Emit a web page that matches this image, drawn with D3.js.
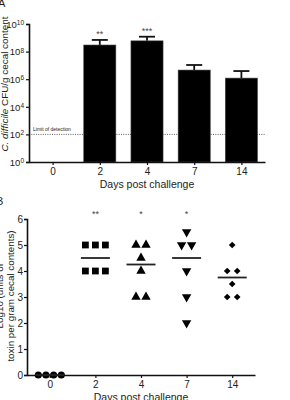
<!DOCTYPE html>
<html><head><meta charset="utf-8">
<script src="https://cdn.jsdelivr.net/npm/d3@7"></script>
<style>body{margin:0;background:#fff}svg{display:block;font-family:"Liberation Sans",Arial,sans-serif}</style>
</head><body>
<script>
// Panel A data
const days = ["0", "2", "4", "7", "14"];
const cfuMean = [null, 3e8, 6e8, 4.6e6, 1.2e6];
const cfuUpper = [null, 7e8, 1.2e9, 1.07e7, 3.9e6];
const sigA = ["", "**", "***", "", ""];
const limitOfDetection = 100;
const yTicksA = [1, 1e2, 1e4, 1e6, 1e8, 1e10];
// Panel B data
const toxin0 = [0, 0, 0, 0];
const toxin2 = [5, 5, 5, 4, 4, 4];
const toxin4 = [5, 5, 4.5, 4, 3, 3];
const toxin7 = [5.5, 5, 5, 4, 3, 2];
const toxin14 = [5, 4, 4, 3.5, 3, 3];
const sigB = ["", "**", "*", "*", ""];
const yTicksB = [0, 1, 2, 3, 4, 5, 6];

const W = 290, H = 400;
const svg = d3.select("body").append("svg").attr("width", W).attr("height", H);
const ink = "#111", txt = "#222";

// ---------- Panel A ----------
const xA = d3.scalePoint().domain(days).range([29, 265]).padding(0.5);
const yA = d3.scaleLog().domain([1, 1e10]).range([162, 24]);
const bw = xA.step() * 0.68;
const gA = svg.append("g");

gA.append("line").attr("x1", 29).attr("x2", 265)
  .attr("y1", yA(limitOfDetection)).attr("y2", yA(limitOfDetection))
  .attr("stroke", "#333").attr("stroke-width", 0.8).attr("stroke-dasharray", "1,1.3");
gA.append("text").attr("x", 33).attr("y", yA(limitOfDetection) - 3)
  .attr("font-size", 5).attr("fill", txt).text("Limit of detection");

days.forEach((d, i) => {
  if (cfuMean[i] == null) return;
  const cx = xA(d);
  gA.append("line").attr("x1", cx).attr("x2", cx)
    .attr("y1", yA(cfuMean[i])).attr("y2", yA(cfuUpper[i]))
    .attr("stroke", ink).attr("stroke-width", 1.8);
  gA.append("line").attr("x1", cx - 8).attr("x2", cx + 8)
    .attr("y1", yA(cfuUpper[i])).attr("y2", yA(cfuUpper[i]))
    .attr("stroke", ink).attr("stroke-width", 1.8);
  gA.append("rect").attr("x", cx - bw / 2).attr("width", bw)
    .attr("y", yA(cfuMean[i])).attr("height", yA(1) - yA(cfuMean[i]))
    .attr("fill", "#000").attr("stroke", "#444").attr("stroke-width", 0.6);
  if (sigA[i]) gA.append("text").attr("x", cx).attr("y", yA(cfuUpper[i]) - 3)
    .attr("text-anchor", "middle").attr("font-size", 9).attr("fill", "#444").text(sigA[i]);
});

const axAy = gA.append("g").attr("transform", "translate(29,0)")
  .call(d3.axisLeft(yA).tickValues(yTicksA).tickSize(3).tickFormat(""));
axAy.selectAll("text").remove();
axAy.selectAll(".tick").each(function (v) {
  const t = d3.select(this).append("text").attr("x", -5).attr("dy", "0.35em")
    .attr("text-anchor", "end").attr("font-size", 9.5).attr("fill", txt);
  t.append("tspan").text("10");
  t.append("tspan").attr("dy", "-0.45em").attr("font-size", 6.5).text(Math.round(Math.log10(v)));
});
const axAx = gA.append("g").attr("transform", "translate(0,162)")
  .call(d3.axisBottom(xA).tickSize(3).tickSizeOuter(0));
axAx.selectAll("text").attr("font-size", 10).attr("fill", txt).attr("dy", "0.71em");
[axAy, axAx].forEach(a => {
  a.select(".domain").attr("stroke", ink).attr("stroke-width", 1.6);
  a.selectAll(".tick line").attr("stroke", ink).attr("stroke-width", 1.2);
});
gA.append("text").attr("x", 147).attr("y", 188).attr("text-anchor", "middle")
  .attr("font-size", 10.5).attr("fill", txt).text("Days post challenge");
gA.append("text").attr("transform", "translate(8,84) rotate(-90)").attr("text-anchor", "middle")
  .attr("font-size", 9.9).attr("fill", txt)
  .call(t => { t.append("tspan").attr("font-style", "italic").text("C. difficile"); t.append("tspan").text(" CFU/g cecal content"); });
svg.append("text").attr("x", -2).attr("y", 7).attr("font-size", 11).attr("fill", txt).text("A");

// ---------- Panel B ----------
const xB = d3.scalePoint().domain(days).range([27, 255]).padding(0.5);
const yB = d3.scaleLinear().domain([0, 6]).range([375, 219]);
const gB = svg.append("g");
const groups = [toxin0, toxin2, toxin4, toxin7, toxin14];
const shapes = [
  {t: d3.symbolCircle, s: 40, r: 0},
  {t: d3.symbolSquare, s: 46, r: 0},
  {t: d3.symbolTriangle, s: 38, r: 0},
  {t: d3.symbolTriangle, s: 38, r: 180},
  {t: d3.symbolSquare, s: 22, r: 45}
];

const axBy = gB.append("g").attr("transform", "translate(27,0)")
  .call(d3.axisLeft(yB).tickValues(yTicksB).tickSize(3).tickFormat(d3.format("d")));
axBy.selectAll("text").attr("font-size", 10).attr("fill", txt).attr("x", -4);
const axBx = gB.append("g").attr("transform", "translate(0,375)")
  .call(d3.axisBottom(xB).tickSize(3).tickSizeOuter(0));
axBx.selectAll("text").attr("font-size", 10).attr("fill", txt).attr("dy", "0.71em");
[axBy, axBx].forEach(a => {
  a.select(".domain").attr("stroke", ink).attr("stroke-width", 1.6);
  a.selectAll(".tick line").attr("stroke", ink).attr("stroke-width", 1.2);
});

groups.forEach((vals, i) => {
  const cx = xB(days[i]);
  const counts = d3.rollup(vals, v => v.length, v => v);
  const seen = new Map();
  vals.forEach(v => {
    const n = counts.get(v), k = seen.get(v) || 0; seen.set(v, k + 1);
    const sp = n > 1 ? Math.min(10, 23 / (n - 1)) : 0;
    const px = cx + (k - (n - 1) / 2) * sp;
    gB.append("path").attr("d", d3.symbol().type(shapes[i].t).size(shapes[i].s)())
      .attr("transform", `translate(${px},${yB(v)}) rotate(${shapes[i].r})`).attr("fill", "#000");
  });
  const med = d3.median(vals);
  gB.append("line").attr("x1", cx - 14.5).attr("x2", cx + 14.5)
    .attr("y1", yB(med)).attr("y2", yB(med)).attr("stroke", "#222").attr("stroke-width", 1.8);
  if (sigB[i]) gB.append("text").attr("x", cx).attr("y", 217).attr("text-anchor", "middle")
    .attr("font-size", 9).attr("fill", "#444").text(sigB[i]);
});

gB.append("text").attr("x", 141).attr("y", 401).attr("text-anchor", "middle")
  .attr("font-size", 10.5).attr("fill", txt).text("Days post challenge");
gB.append("text").attr("transform", "translate(3,296) rotate(-90)").attr("text-anchor", "middle")
  .attr("font-size", 9.8).attr("fill", txt).text("Log10 (units of");
gB.append("text").attr("transform", "translate(14,296) rotate(-90)").attr("text-anchor", "middle")
  .attr("font-size", 9.8).attr("fill", txt).text("toxin per gram cecal contents)");
svg.append("text").attr("x", -4).attr("y", 205).attr("font-size", 11).attr("fill", txt).text("B");
</script>
</body></html>
